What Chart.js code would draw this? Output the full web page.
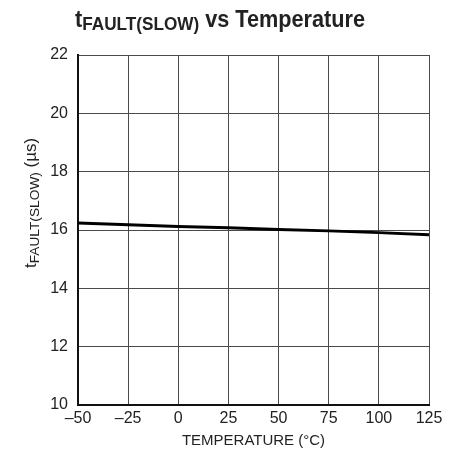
<!DOCTYPE html>
<html>
<head>
<meta charset="utf-8">
<script src="https://cdn.jsdelivr.net/npm/chart.js@4"></script>
<style>
  html, body { margin: 0; padding: 0; background: #fff; }
  #wrap { width: 461px; height: 464px; }
</style>
</head>
<body>
<div id="wrap"><canvas id="chart" width="461" height="464"></canvas></div>
<script>
const temps = [-50, -25, 0, 25, 50, 75, 100, 125];
const faultSlow = [16.24, 16.18, 16.12, 16.08, 16.02, 15.97, 15.91, 15.84];
const xTicks = [-50, -25, 0, 25, 50, 75, 100, 125];
const yTicks = [10, 12, 14, 16, 18, 20, 22];

const FONT = "'Liberation Sans', Arial, sans-serif";

// text with a subscript part, squeezed to a given width (condensed look)
function measureSub(ctx, parts) {
  let w = 0;
  parts.forEach(p => { ctx.font = p.font; w += ctx.measureText(p.text).width; });
  return w;
}
function drawSub(ctx, x, y, parts, width) {
  const w = measureSub(ctx, parts);
  const s = width / w;
  ctx.save();
  ctx.translate(x, y);
  ctx.scale(s, 1);
  let cx = 0;
  parts.forEach(p => {
    ctx.font = p.font;
    ctx.fillText(p.text, cx, p.dy || 0);
    cx += ctx.measureText(p.text).width;
  });
  ctx.restore();
}

const labelsPlugin = {
  id: "labels",
  afterDraw(chart) {
    const ctx = chart.ctx;
    ctx.save();
    ctx.fillStyle = "#222";
    ctx.textBaseline = "alphabetic";
    ctx.textAlign = "left";

    // title
    drawSub(ctx, 75, 27, [
      { text: "t", font: "bold 24px " + FONT },
      { text: "FAULT(SLOW)", font: "bold 19px " + FONT, dy: 3 },
      { text: " vs Temperature", font: "bold 24px " + FONT }
    ], 290);

    // y axis title
    ctx.translate(36, 268);
    ctx.rotate(-Math.PI / 2);
    drawSub(ctx, 0, 0, [
      { text: "t", font: "16px " + FONT },
      { text: "FAULT(SLOW)", font: "13px " + FONT, dy: 3 },
      { text: " (\u00b5s)", font: "16px " + FONT }
    ], 130);
    ctx.restore();
  }
};

new Chart(document.getElementById("chart"), {
  type: "line",
  data: {
    datasets: [{
      data: temps.map((t, i) => ({ x: t, y: faultSlow[i] })),
      borderColor: "#000",
      borderWidth: 3,
      pointRadius: 0,
      tension: 0
    }]
  },
  options: {
    responsive: false,
    animation: false,
    layout: { padding: { left: 0, right: 32, top: 55, bottom: 14 } },
    plugins: { legend: { display: false }, tooltip: { enabled: false } },
    scales: {
      x: {
        type: "linear",
        min: -50,
        max: 125,
        afterBuildTicks: axis => { axis.ticks = xTicks.map(v => ({ value: v })); },
        afterFit: axis => { axis.height = 45; },
        ticks: {
          color: "#222",
          font: { family: FONT, size: 16 },
          padding: 4,
          maxRotation: 0,
          callback: v => String(v).replace("-", "\u2013")
        },
        grid: { color: "#4a4a4a", lineWidth: 1, drawTicks: false },
        border: { color: "#111", width: 2 },
        title: {
          display: true,
          text: "TEMPERATURE (\u00b0C)",
          color: "#222",
          font: { family: FONT, size: 15 },
          padding: { top: 1, bottom: 0 }
        }
      },
      y: {
        min: 10,
        max: 22,
        afterBuildTicks: axis => { axis.ticks = yTicks.map(v => ({ value: v })); },
        afterFit: axis => { axis.width = 78; },
        ticks: {
          color: "#222",
          font: { family: FONT, size: 16 },
          padding: 10
        },
        grid: { color: "#4a4a4a", lineWidth: 1, drawTicks: false },
        border: { color: "#111", width: 2 }
      }
    }
  },
  plugins: [labelsPlugin]
});
</script>
</body>
</html>
